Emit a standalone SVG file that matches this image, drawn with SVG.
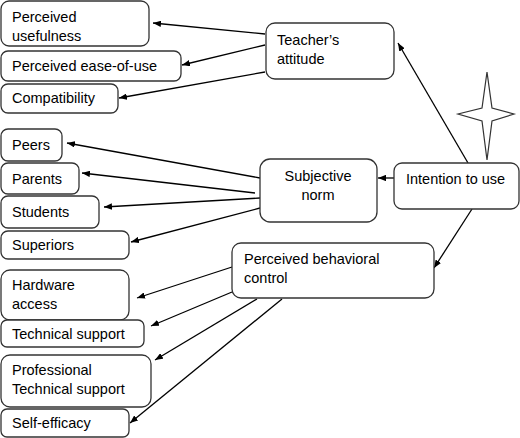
<svg xmlns="http://www.w3.org/2000/svg" width="520" height="438" viewBox="0 0 520 438">
<style>
.box{fill:#fff;stroke:#333;stroke-width:1.3}
.t{font-family:"Liberation Sans",Arial,sans-serif;font-size:14.5px;fill:#000}
.c{stroke:#000;stroke-width:1.3;fill:none;marker-end:url(#ah)}
</style>
<defs>
<marker id="ah" viewBox="0 0 10 8" refX="10" refY="4" markerWidth="8" markerHeight="6.4" markerUnits="userSpaceOnUse" orient="auto">
<path d="M0,0 L10,4 L0,8 z" fill="#000"/>
</marker>
</defs>
<rect width="520" height="438" fill="#fff"/>
<g id="connectors">
<line class="c" x1="265" y1="34" x2="153" y2="23"/>
<line class="c" x1="265" y1="45" x2="182" y2="65"/>
<line class="c" x1="265" y1="72" x2="119" y2="98"/>
<line class="c" x1="468" y1="163" x2="398" y2="43"/>
<line class="c" x1="394" y1="178" x2="378" y2="178"/>
<line class="c" x1="472" y1="209" x2="434" y2="268"/>
<line class="c" x1="260" y1="178" x2="67" y2="143"/>
<line class="c" x1="255" y1="193" x2="82" y2="173"/>
<line class="c" x1="260" y1="198" x2="104" y2="207"/>
<line class="c" x1="260" y1="208" x2="131" y2="242"/>
<line class="c" x1="232" y1="267" x2="137" y2="298"/>
<line class="c" x1="232" y1="292" x2="151" y2="326"/>
<line class="c" x1="257" y1="299" x2="155" y2="360"/>
<line class="c" x1="282" y1="299" x2="130" y2="423"/>
</g>
<g id="star">
<path d="M487,72 L492,108 L514,114 L492,121 L487,160 L482,121 L458,114 L482,108 Z" fill="#fff" stroke="#333" stroke-width="1.2"/>
</g>
<g id="perceived-usefulness">
<rect class="box" x="1" y="1" width="148" height="45" rx="8"/>
<text class="t" x="12" y="22">Perceived</text>
<text class="t" x="12" y="41">usefulness</text>
</g>
<g id="perceived-ease">
<rect class="box" x="1" y="51" width="180" height="30" rx="7"/>
<text class="t" x="12" y="71">Perceived ease-of-use</text>
</g>
<g id="compatibility">
<rect class="box" x="1" y="84" width="117" height="29" rx="7"/>
<text class="t" x="12" y="103">Compatibility</text>
</g>
<g id="teachers-attitude">
<rect class="box" x="266" y="23" width="128" height="56" rx="9"/>
<text class="t" x="277" y="45">Teacher’s</text>
<text class="t" x="277" y="64">attitude</text>
</g>
<g id="peers">
<rect class="box" x="1" y="129" width="61" height="32" rx="7"/>
<text class="t" x="12" y="150">Peers</text>
</g>
<g id="parents">
<rect class="box" x="1" y="163" width="78" height="31" rx="7"/>
<text class="t" x="12" y="184">Parents</text>
</g>
<g id="students">
<rect class="box" x="1" y="196" width="98" height="32" rx="7"/>
<text class="t" x="12" y="217">Students</text>
</g>
<g id="superiors">
<rect class="box" x="1" y="231" width="128" height="28" rx="7"/>
<text class="t" x="12" y="250">Superiors</text>
</g>
<g id="subjective-norm">
<rect class="box" x="260" y="159" width="117" height="63" rx="10"/>
<text class="t" x="318" y="181" text-anchor="middle">Subjective</text>
<text class="t" x="318" y="200" text-anchor="middle">norm</text>
</g>
<g id="intention">
<rect class="box" x="394" y="163" width="125" height="46" rx="8"/>
<text class="t" x="406" y="184">Intention to use</text>
</g>
<g id="pbc">
<rect class="box" x="232" y="243" width="202" height="55" rx="9"/>
<text class="t" x="244" y="264">Perceived behavioral</text>
<text class="t" x="244" y="283">control</text>
</g>
<g id="hardware">
<rect class="box" x="1" y="270" width="128" height="50" rx="9"/>
<text class="t" x="12" y="290">Hardware</text>
<text class="t" x="12" y="309">access</text>
</g>
<g id="technical-support">
<rect class="box" x="1" y="320" width="143" height="27" rx="6"/>
<text class="t" x="12" y="339">Technical support</text>
</g>
<g id="professional">
<rect class="box" x="1" y="355" width="150" height="52" rx="9"/>
<text class="t" x="12" y="375">Professional</text>
<text class="t" x="12" y="394">Technical support</text>
</g>
<g id="self-efficacy">
<rect class="box" x="1" y="409" width="128" height="28" rx="6"/>
<text class="t" x="12" y="428">Self-efficacy</text>
</g>
</svg>
